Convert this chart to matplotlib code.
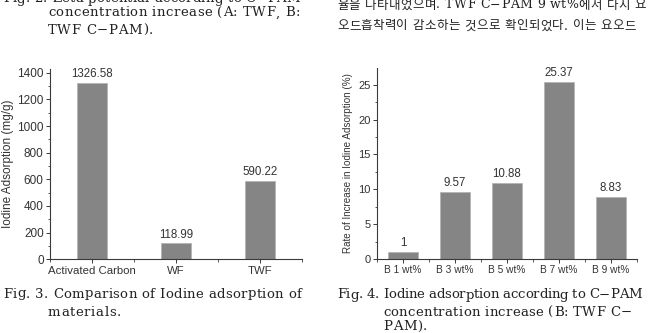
import matplotlib
matplotlib.use("Agg")
import matplotlib.pyplot as plt
from matplotlib.ticker import MultipleLocator

# Fig. 3 data
materials = ["Activated Carbon", "WF", "TWF"]
iodine = [1326.58, 118.99, 590.22]

# Fig. 4 data
cpam = ["B 1 wt%", "B 3 wt%", "B 5 wt%", "B 7 wt%", "B 9 wt%"]
increase = [1, 9.57, 10.88, 25.37, 8.83]
increase_labels = ["1", "9.57", "10.88", "25.37", "8.83"]

bar_color = "#858585"
edge_color = "#b5b5b5"
axis_color = "#3a3a3a"
text_color = "#333333"
serif = ["DejaVu Serif", "Liberation Serif"]
kr = ["DejaVu Serif", "Noto Sans CJK KR"]

plt.rcParams["font.family"] = ["Liberation Sans", "DejaVu Sans"]

W, H = 651, 333
fig = plt.figure(figsize=(W / 100, H / 100), dpi=100)


def style_axes(ax, xsize, ysize):
    for side in ("top", "right"):
        ax.spines[side].set_visible(False)
    for side in ("left", "bottom"):
        ax.spines[side].set_color(axis_color)
        ax.spines[side].set_linewidth(0.8)
    ax.tick_params(which="major", direction="out", length=3, width=0.7,
                   color=axis_color, labelcolor=text_color, pad=1.5)
    ax.tick_params(axis="x", labelsize=xsize)
    ax.tick_params(axis="y", labelsize=ysize)
    ax.tick_params(which="minor", direction="out", length=1.8, width=0.6,
                   color=axis_color)
    ax.xaxis.set_minor_locator(MultipleLocator(0.5))


# left chart
ax1 = fig.add_axes([50 / W, 1 - 259.3 / H, 252 / W, 190.3 / H])
x1 = range(len(materials))
ax1.bar(x1, iodine, width=0.36, color=bar_color, edgecolor=edge_color, linewidth=0.6)
for xi, v in zip(x1, iodine):
    ax1.text(xi, v + 22, f"{v:.2f}", ha="center", va="bottom", fontsize=8.3, color=text_color)
ax1.set_xlim(-0.5, 2.5)
ax1.set_ylim(0, 1428)
ax1.set_xticks(list(x1))
ax1.set_xticklabels(materials)
ax1.yaxis.set_major_locator(MultipleLocator(200))
ax1.yaxis.set_minor_locator(MultipleLocator(100))
ax1.set_ylabel("Iodine Adsorption (mg/g)", fontsize=8.5, color=text_color, labelpad=2)
style_axes(ax1, 8.2, 8.5)

# right chart
ax2 = fig.add_axes([377 / W, 1 - 259 / H, 260 / W, 191 / H])
x2 = range(len(cpam))
ax2.bar(x2, increase, width=0.58, color=bar_color, edgecolor=edge_color, linewidth=0.6)
for xi, v, lab in zip(x2, increase, increase_labels):
    ax2.text(xi, v + 0.45, lab, ha="center", va="bottom", fontsize=8.3, color=text_color)
ax2.set_xlim(-0.5, 4.5)
ax2.set_ylim(0, 27.4)
ax2.set_xticks(list(x2))
ax2.set_xticklabels(cpam)
ax2.yaxis.set_major_locator(MultipleLocator(5))
ax2.yaxis.set_minor_locator(MultipleLocator(2.5))
ax2.set_ylabel("Rate of Increase in Iodine Adsorption (%)", fontsize=7.1,
               color=text_color, labelpad=4)
style_axes(ax2, 7.3, 8)

renderer = fig.canvas.get_renderer()


def width_of(s, family, size):
    t = fig.text(0, 0, s, fontsize=size, family=family)
    w = t.get_window_extent(renderer).width
    t.remove()
    return w


def line(x0, y, s, x1=None, family=serif, size=9.5, track=0.0):
    # page text set letter by letter with extra tracking;
    # if x1 is given the tracking is chosen so the line fills x0..x1
    space = width_of("a a", family, size) - width_of("aa", family, size)
    widths = [space if c == " " else width_of(c, family, size) for c in s]
    if x1 is not None:
        track = (x1 - x0 - sum(widths)) / (len(s) - 1)
    x = x0
    for c, w in zip(s, widths):
        if c != " ":
            fig.text(x / W, 1 - y / H, c, ha="left", va="center", fontsize=size,
                     family=family, color="#222222")
        x += w + track


# surrounding page text
line(3, -1, "Fig. 2. Zeta potential according to C\u2212PAM", 300)
line(48, 13, "concentration increase (A: TWF, B:", 300)
line(48, 30, "TWF C\u2212PAM).", track=0.6)
line(337, 5, "율을 나타내었으며. TWF C\u2212PAM 9 wt%에서 다시 요", 646, family=kr, size=9)
line(337, 26, "오드흡착력이 감소하는 것으로 확인되었다. 이는 요오드", 636, family=kr, size=9)

line(3, 294, "Fig. 3. Comparison of Iodine adsorption of", 301)
line(48, 312, "materials.", track=0.6)
line(337, 295, "Fig. 4. Iodine adsorption according to C\u2212PAM", 642)
line(383, 312, "concentration increase (B: TWF C\u2212", 632)
line(383, 327, "PAM).", track=0.6)

fig.savefig("out.png", dpi=100)
